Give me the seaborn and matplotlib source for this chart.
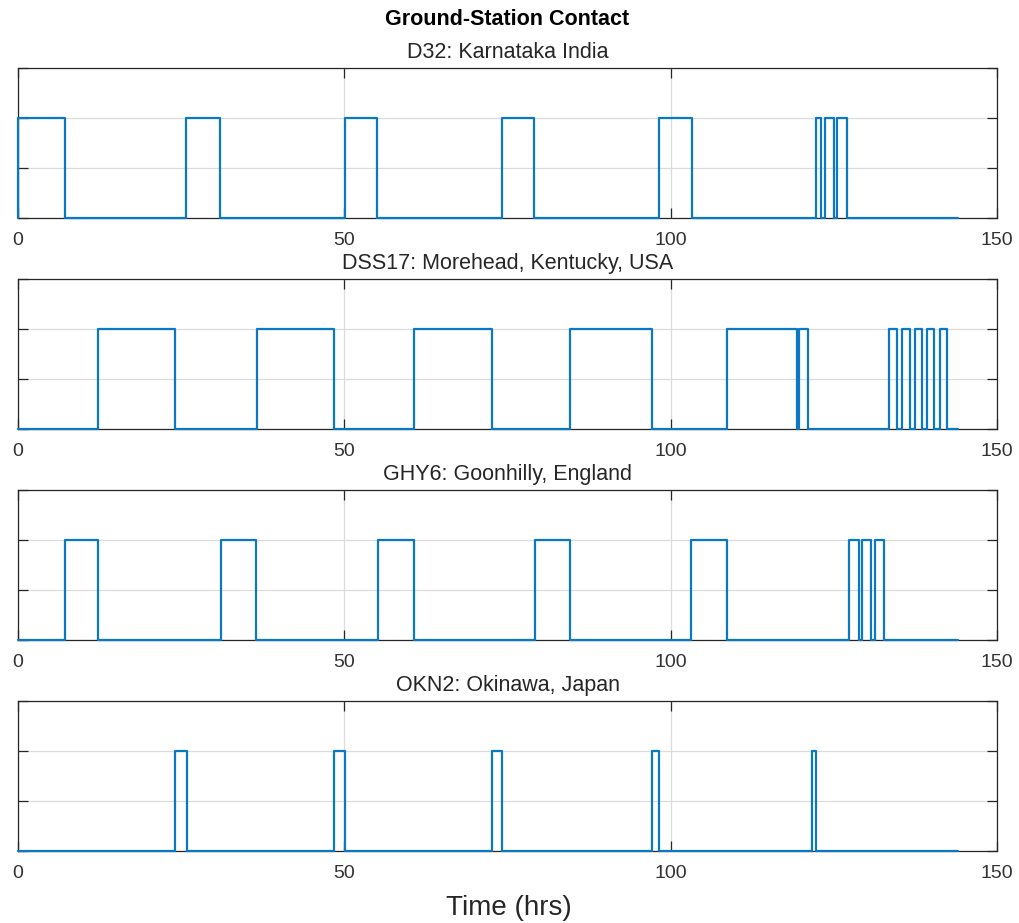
import numpy as np
import pandas as pd
import matplotlib
matplotlib.use("Agg")
import matplotlib.pyplot as plt
import seaborn as sns

# ---- data (hours) ----
station_titles = ["D32: Karnataka India",
                  "DSS17: Morehead, Kentucky, USA",
                  "GHY6: Goonhilly, England",
                  "OKN2: Okinawa, Japan"]

d32_start = [0.0, 25.8, 50.1, 74.1, 98.2, 122.2, 123.6, 125.5]
d32_end   = [7.25, 30.95, 55.05, 79.1, 103.2, 123.1, 125.0, 127.0]

dss17_start = [12.2, 36.6, 60.6, 84.6, 108.6, 119.65, 133.5, 135.4, 137.4, 139.3, 141.3]
dss17_end   = [24.05, 48.4, 72.7, 97.1, 119.35, 121.1, 134.7, 136.6, 138.5, 140.4, 142.4]

ghy6_start = [7.25, 31.05, 55.1, 79.15, 103.1, 127.4, 129.35, 131.35]
ghy6_end   = [12.2, 36.5, 60.6, 84.6, 108.7, 128.8, 130.7, 132.7]

okn2_start = [24.1, 48.4, 72.7, 97.1, 121.65]
okn2_end   = [25.85, 50.15, 74.15, 98.25, 122.2]

sim_end = 144.0
x_ticks = [0, 50, 100, 150]
y_ticks = [0, 0.5, 1, 1.5]

intervals = [(d32_start, d32_end), (dss17_start, dss17_end),
             (ghy6_start, ghy6_end), (okn2_start, okn2_end)]


def contact_frame(starts, ends, t_end):
    xs, ys = [0.0], [0.0]
    for s, e in zip(starts, ends):
        xs += [s, s, e, e]
        ys += [0, 1, 1, 0]
    xs.append(t_end)
    ys.append(0)
    return pd.DataFrame({"t": xs, "contact": ys})


# ---- style ----
sns.set_style("white")
plt.rcParams["font.family"] = ["Liberation Sans", "DejaVu Sans"]
text_col = "#262626"
line_col = "#0a78c2"

W, H = 1019, 923
fig = plt.figure(figsize=(W / 100, H / 100), dpi=100)

left_px, right_px = 18, 997
tops_px = [68, 279, 490, 701]
h_px = 150

for i, ((st, en), title) in enumerate(zip(intervals, station_titles)):
    top = tops_px[i]
    ax = fig.add_axes([left_px / W, 1 - (top + h_px) / H,
                       (right_px - left_px) / W, h_px / H])
    df = contact_frame(st, en, sim_end)
    sns.lineplot(data=df, x="t", y="contact", estimator=None, sort=False,
                 color=line_col, linewidth=1.6, ax=ax, zorder=3,
                 clip_on=False)
    ax.set_xlim(0, 150)
    ax.set_ylim(0, 1.5)
    ax.set_xticks(x_ticks)
    ax.set_yticks(y_ticks)
    ax.set_yticklabels([])
    ax.set_xlabel("")
    ax.set_ylabel("")
    ax.grid(True, color="#dcdcdc", linewidth=0.9)
    ax.set_axisbelow(True)
    for sp in ax.spines.values():
        sp.set_visible(True)
        sp.set_color(text_col)
        sp.set_linewidth(0.9)
    ax.tick_params(axis="both", direction="in", length=7, width=0.9,
                   color=text_col, top=True, right=True, bottom=True,
                   left=True, labelsize=14, labelcolor="#333333", pad=10)
    ax.set_title(title, fontsize=15.5, color=text_col, pad=7)

fig.text((left_px + right_px) / 2 / W, 1 - 25 / H, "Ground-Station Contact",
         ha="center", va="baseline", fontsize=15.5, fontweight="bold",
         color="#000000")
fig.text(509 / W, 1 - 915 / H, "Time (hrs)", ha="center", va="baseline",
         fontsize=20, color=text_col)

fig.savefig("out.png", dpi=100, facecolor="white")
